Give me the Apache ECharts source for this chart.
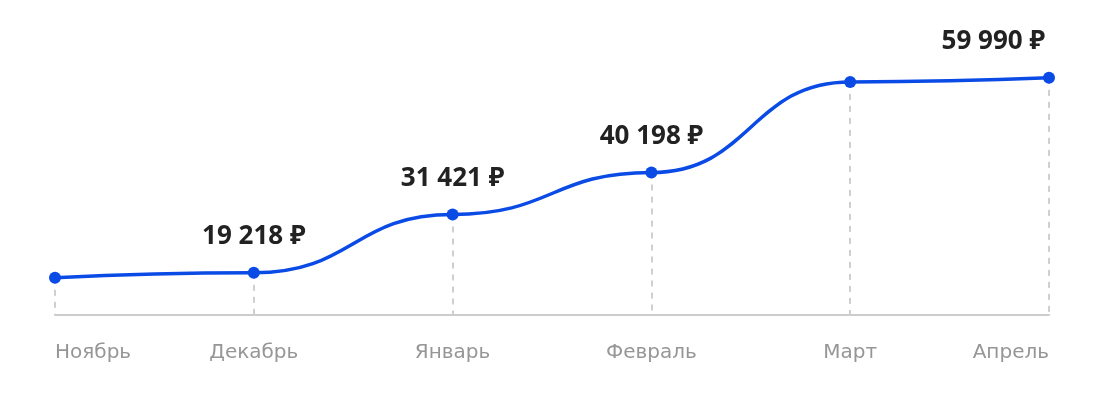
<!DOCTYPE html>
<html>
<head>
<meta charset="utf-8">
<script src="https://cdn.jsdelivr.net/npm/echarts@6/dist/echarts.min.js"></script>
<style>html,body{margin:0;padding:0;background:#fff}#c{width:1104px;height:420px}</style>
</head>
<body>
<div id="c"></div>
<script>
const months = ['Ноябрь', 'Декабрь', 'Январь', 'Февраль', 'Март', 'Апрель'];
const prices = [18180, 19218, 31421, 40198, 59150, 59990];
const showLabel = [false, true, true, true, false, true];
const yMin = 10400;
const yMax = 70000;

function fmt(v) {
  return String(v).replace(/\B(?=(\d{3})+(?!\d))/g, ' ') + ' ₽';
}

const last = prices.length - 1;
const seriesData = prices.map((v, i) => ({
  value: v,
  label: i === last
    ? { show: showLabel[i], align: 'right', offset: [-4, 0] }
    : { show: showLabel[i] }
}));

const dropLines = prices.map((v, i) => [
  { coord: [i, v] },
  { coord: [i, yMin] }
]);

const chart = echarts.init(document.getElementById('c'));
chart.setOption({
  animation: false,
  grid: { left: 55, right: 55, top: 30, bottom: 105 },
  xAxis: {
    type: 'category',
    data: months,
    boundaryGap: false,
    axisLine: { lineStyle: { color: '#cccccc', width: 2 } },
    axisTick: { show: false },
    axisLabel: {
      color: '#969696',
      fontSize: 20,
      fontFamily: 'DejaVu Sans, sans-serif',
      margin: 28,
      interval: 0,
      alignMinLabel: 'left',
      alignMaxLabel: 'right'
    },
    splitLine: { show: false }
  },
  yAxis: {
    type: 'value',
    min: yMin,
    max: yMax,
    show: false,
    splitLine: { show: false }
  },
  series: [{
    type: 'line',
    data: seriesData,
    smooth: 0.5,
    smoothMonotone: 'x',
    symbol: 'circle',
    symbolSize: 12,
    lineStyle: { color: '#0a4be6', width: 3.5 },
    itemStyle: { color: '#0a4be6' },
    label: {
      position: 'top',
      distance: 17,
      formatter: p => fmt(p.value),
      color: '#222222',
      fontSize: 26,
      fontWeight: 'bold',
      fontFamily: 'Noto Sans, sans-serif'
    },
    markLine: {
      silent: true,
      symbol: 'none',
      label: { show: false },
      lineStyle: { color: '#cfcfcf', type: [6, 6], width: 2 },
      data: dropLines,
      z: 1
    },
    z: 3
  }]
});
</script>
</body>
</html>
